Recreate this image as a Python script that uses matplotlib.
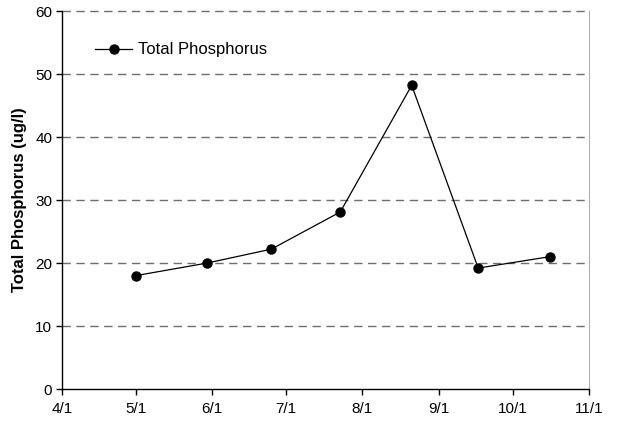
import datetime as dt
import matplotlib.pyplot as plt
import matplotlib.dates as mdates

plt.rcParams['font.family'] = ['Liberation Sans', 'DejaVu Sans']

# Probenahmetermine und Werte
datum = ['2001-05-01', '2001-05-30', '2001-06-25', '2001-07-23',
         '2001-08-21', '2001-09-17', '2001-10-16']
tp = [18.0, 20.0, 22.2, 28.1, 48.2, 19.2, 21.0]
monate = ['2001-04-01', '2001-05-01', '2001-06-01', '2001-07-01',
          '2001-08-01', '2001-09-01', '2001-10-01', '2001-11-01']
y_ticks = [0, 10, 20, 30, 40, 50, 60]

x = [dt.datetime.strptime(d, '%Y-%m-%d') for d in datum]
xt = [dt.datetime.strptime(d, '%Y-%m-%d') for d in monate]

fig = plt.figure(figsize=(6.2, 4.32), dpi=100)
ax = fig.add_axes([0.1, 0.0995, 0.85, 0.875])

ax.plot(x, tp, 'k-', lw=0.9, marker='o', ms=6.5, label='Total Phosphorus')

ax.set_xlim(xt[0], xt[-1])
ax.set_ylim(0, 60)
ax.set_xticks(xt)
ax.xaxis.set_major_formatter(mdates.DateFormatter('%-m/%-d'))
ax.set_yticks(y_ticks)

for y in y_ticks[1:]:
    ax.axhline(y, color='#6e6e6e', lw=1, ls=(0, (6, 4)), zorder=0, clip_on=False)

ax.spines['top'].set_visible(False)
ax.spines['right'].set_color('#b0b0b0')
ax.spines['left'].set_linewidth(1)
ax.spines['bottom'].set_linewidth(1)
ax.tick_params(direction='out', length=4, width=1, labelsize=11)
ax.tick_params(axis='x', pad=5)
ax.tick_params(axis='y', pad=3)

ax.set_ylabel('Total Phosphorus (ug/l)', fontsize=12, fontweight='bold', labelpad=6)

ax.legend(loc='center left', bbox_to_anchor=(0.035, 0.897), frameon=False,
          fontsize=12, handlelength=2.2, handletextpad=0.35)

plt.savefig('out.png', dpi=100)
